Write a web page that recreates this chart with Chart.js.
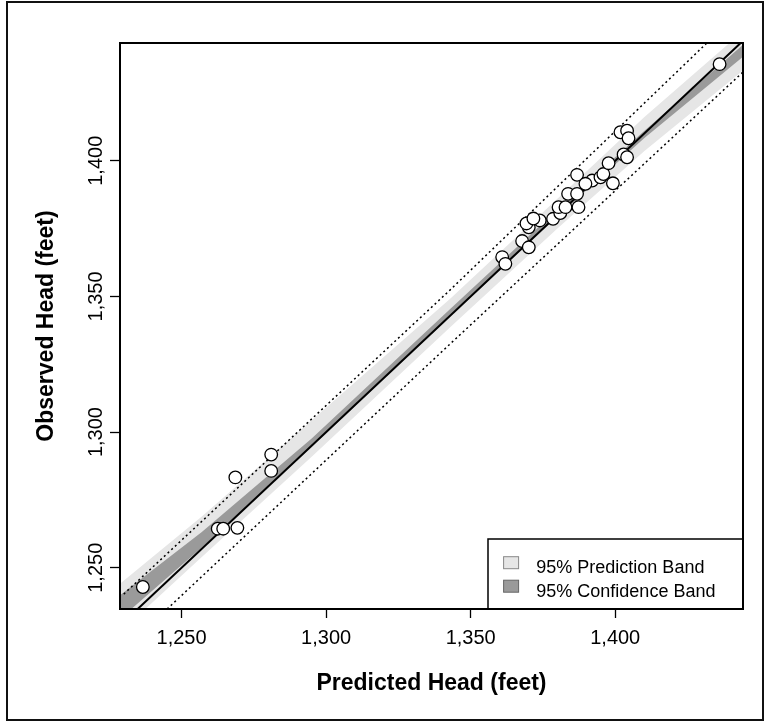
<!DOCTYPE html>
<html>
<head>
<meta charset="utf-8">
<script src="https://cdn.jsdelivr.net/npm/chart.js@4.4.1/dist/chart.umd.min.js"></script>
<style>
  html, body { margin: 0; padding: 0; background: #fff; }
  #wrap { width: 765px; height: 723px; }
</style>
</head>
<body>
<div id="wrap"><canvas id="headChart" width="765" height="723"></canvas></div>
<script>
// Observed vs predicted head (feet), one value per well
var predictedHead = [1236.6, 1262.5, 1264.4, 1269.3, 1268.6, 1281.0, 1281.0, 1360.9, 1362.0, 1367.8,
    1370.1, 1370.1, 1369.3, 1373.9, 1371.7, 1378.5, 1381.0, 1380.4, 1382.8, 1387.3,
    1383.7, 1386.8, 1386.8, 1392.0, 1389.7, 1394.9, 1395.9, 1399.2, 1397.7, 1402.9,
    1404.1, 1401.8, 1404.1, 1404.6, 1436.1];
var observedHead = [1242.9, 1264.4, 1264.4, 1264.7, 1283.3, 1291.7, 1285.7, 1364.5, 1362.0, 1370.4,
    1368.1, 1375.5, 1376.9, 1378.0, 1378.7, 1378.6, 1380.7, 1382.9, 1382.9, 1382.9,
    1387.8, 1387.8, 1394.8, 1392.7, 1391.5, 1393.9, 1395.1, 1391.7, 1399.1, 1402.3,
    1401.3, 1410.5, 1411.1, 1408.3, 1435.6];

// band edges, read at these predicted heads
var bandX = [1228, 1257, 1295, 1343, 1380, 1410, 1445];
var predUpper = [1243.5, 1268.9, 1304.4, 1349.2, 1386.0, 1416.0, 1448.5];
var predLower = [1225.5, 1254.0, 1290.9, 1338.7, 1375.0, 1403.5, 1434.0];
var confUpper = [1239.3, 1263.2, 1297.6, 1345.5, 1382.0, 1411.0, 1443.5];
var confLower = [1230.5, 1257.5, 1294.5, 1342.6, 1379.5, 1408.3, 1439.0];

// 1:1 line and the dotted lines either side of it
var oneToOneX = [1225, 1445];
var oneToOneY = [1225, 1445];
var upperDotX = [1230.0, 1343.0, 1431.7];
var upperDotY = [1240.3, 1352.5, 1443.4];
var lowerDotX = [1245.0, 1343.0, 1444.2];
var lowerDotY = [1234.8, 1332.6, 1432.7];

var xTicks = [1250, 1300, 1350, 1400];
var yTicks = [1250, 1300, 1350, 1400];
var legendLabels = ["95% Prediction Band", "95% Confidence Band"];

var lightGray = "#e6e6e6";
var darkGray = "#9a9a9a";

function pairs(xs, ys) {
    return xs.map((x, i) => ({ x: x, y: ys[i] }));
}
function fmt(v) {
    return Number(v).toLocaleString("en-US");
}

var frameAndLegend = {
    id: "frameAndLegend",
    beforeDraw(chart) {
        var ctx = chart.ctx;
        ctx.save();
        ctx.fillStyle = "#fff";
        ctx.fillRect(0, 0, chart.width, chart.height);
        ctx.strokeStyle = "#111";
        ctx.lineWidth = 2;
        ctx.strokeRect(7, 2, 756, 718);
        ctx.restore();
    },
    afterDraw(chart) {
        var ctx = chart.ctx, a = chart.chartArea;

        // rotated y tick labels, like R does
        var ys = chart.scales.y;
        ctx.save();
        ctx.fillStyle = "#000";
        ctx.font = "20px 'Liberation Sans', Arial, sans-serif";
        ctx.textAlign = "center";
        ctx.textBaseline = "middle";
        yTicks.forEach(v => {
            ctx.save();
            ctx.translate(96, ys.getPixelForValue(v));
            ctx.rotate(-Math.PI / 2);
            ctx.fillText(fmt(v), 0, 0);
            ctx.restore();
        });
        ctx.restore();

        // legend box in the lower right corner
        var left = a.right - 255, top = a.bottom - 70;
        ctx.save();
        ctx.fillStyle = "#fff";
        ctx.fillRect(left, top, a.right - left, a.bottom - top);
        ctx.strokeStyle = "#000";
        ctx.lineWidth = 1.5;
        ctx.strokeRect(left, top, a.right - left, a.bottom - top);
        var swatches = [lightGray, darkGray];
        ctx.font = "18px 'Liberation Sans', Arial, sans-serif";
        ctx.textBaseline = "alphabetic";
        legendLabels.forEach((label, i) => {
            var sy = a.bottom - 52.3 + i * 23.5;
            ctx.fillStyle = swatches[i];
            ctx.fillRect(left + 15.6, sy, 15, 12);
            ctx.strokeStyle = i === 0 ? "#888" : "#666";
            ctx.lineWidth = 1;
            ctx.strokeRect(left + 15.6, sy, 15, 12);
            ctx.fillStyle = "#000";
            ctx.fillText(label, left + 48.3, a.bottom - 36.3 + i * 24);
        });
        ctx.restore();

        // box round the plotting region
        ctx.save();
        ctx.strokeStyle = "#000";
        ctx.lineWidth = 2;
        ctx.strokeRect(a.left, a.top, a.right - a.left, a.bottom - a.top);
        ctx.restore();
    }
};

var ctx = document.getElementById("headChart");
var headChart = new Chart(ctx, {
    type: "scatter",
    data: {
        datasets: [
            {
                label: "Observed",
                data: pairs(predictedHead, observedHead),
                pointRadius: 6.3,
                pointBackgroundColor: "#fff",
                pointBorderColor: "#000",
                pointBorderWidth: 1.3,
                order: 0
            },
            {
                label: "1:1",
                data: pairs(oneToOneX, oneToOneY),
                showLine: true, pointRadius: 0,
                borderColor: "#000", borderWidth: 2,
                order: 1
            },
            {
                label: "upper dotted",
                data: pairs(upperDotX, upperDotY),
                showLine: true, pointRadius: 0,
                borderColor: "#000", borderWidth: 1.5, borderDash: [2, 3],
                order: 2
            },
            {
                label: "lower dotted",
                data: pairs(lowerDotX, lowerDotY),
                showLine: true, pointRadius: 0,
                borderColor: "#000", borderWidth: 1.5, borderDash: [2, 3],
                order: 2
            },
            {
                label: legendLabels[1],
                data: pairs(bandX, confUpper),
                showLine: true, pointRadius: 0, borderWidth: 0,
                borderColor: darkGray, backgroundColor: darkGray,
                fill: "+1",
                order: 3
            },
            {
                label: "conf lower",
                data: pairs(bandX, confLower),
                showLine: true, pointRadius: 0, borderWidth: 0,
                borderColor: darkGray,
                order: 3
            },
            {
                label: legendLabels[0],
                data: pairs(bandX, predUpper),
                showLine: true, pointRadius: 0, borderWidth: 0,
                borderColor: lightGray, backgroundColor: lightGray,
                fill: "+1",
                order: 4
            },
            {
                label: "pred lower",
                data: pairs(bandX, predLower),
                showLine: true, pointRadius: 0, borderWidth: 0,
                borderColor: lightGray,
                order: 4
            }
        ]
    },
    options: {
        responsive: false,
        animation: false,
        layout: { padding: { top: 43, right: 22, left: 0, bottom: 0 } },
        scales: {
            x: {
                type: "linear",
                min: 1228.7,
                max: 1444.2,
                afterBuildTicks: scale => { scale.ticks = xTicks.map(v => ({ value: v })); },
                afterFit: scale => { scale.height = 114; },
                grid: { drawOnChartArea: false, drawTicks: true, tickLength: 9, tickColor: "#000", tickWidth: 1.3 },
                border: { display: false },
                ticks: {
                    color: "#000",
                    padding: 8,
                    font: { family: "'Liberation Sans', Arial, sans-serif", size: 20 },
                    callback: v => fmt(v)
                },
                title: {
                    display: true,
                    text: "Predicted Head (feet)",
                    color: "#000",
                    font: { family: "'Liberation Sans', Arial, sans-serif", size: 23, weight: "bold" },
                    padding: { top: 0, bottom: 26 }
                }
            },
            y: {
                type: "linear",
                min: 1234.8,
                max: 1443.4,
                afterBuildTicks: scale => { scale.ticks = yTicks.map(v => ({ value: v })); },
                afterFit: scale => { scale.width = 120; },
                grid: { drawOnChartArea: false, drawTicks: true, tickLength: 10, tickColor: "#000", tickWidth: 1.3 },
                border: { display: false },
                ticks: { display: false },
                title: {
                    display: true,
                    text: "Observed Head (feet)",
                    color: "#000",
                    font: { family: "'Liberation Sans', Arial, sans-serif", size: 23, weight: "bold" },
                    padding: { top: 33, bottom: 0 }
                }
            }
        },
        plugins: {
            legend: { display: false },
            tooltip: { enabled: false }
        }
    },
    plugins: [frameAndLegend]
});
</script>
</body>
</html>
